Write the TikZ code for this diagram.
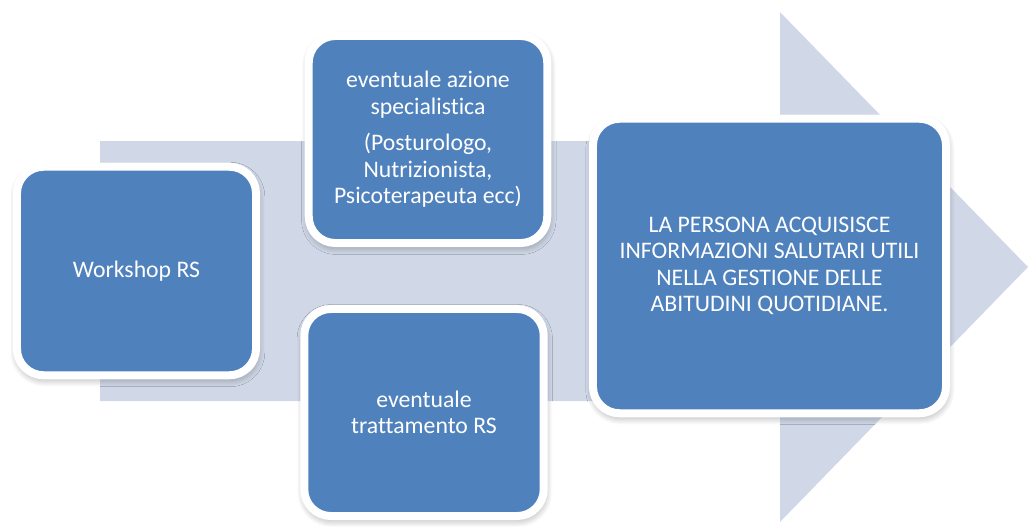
\documentclass[tikz,border=0pt]{standalone}
\usepackage{fontspec}
\setmainfont{Carlito}[Ligatures=NoCommon]
\usetikzlibrary{shadows.blur}
\definecolor{boxblue}{HTML}{4F81BD}
\definecolor{arrowgray}{HTML}{D0D8E8}
\tikzset{
	stepbox/.style={fill=boxblue,draw=white,line width=6pt,rounded corners=20pt,inner sep=0pt,
		align=center,text=white,font=\fontsize{17.8}{19.9}\selectfont,
		blur shadow={shadow xshift=0.6pt,shadow yshift=-2.6pt,shadow blur radius=6pt,shadow blur steps=8,shadow opacity=40}}
}
\begin{document}
\begin{tikzpicture}[x=0.75pt,y=-0.75pt]
	\useasboundingbox (0,0) rectangle (1029,526);
	\fill[arrowgray] (100,141)--(780,141)--(780,12)--(1028,267)--(780,522)--(780,401)--(100,401)--cycle;
	\node[stepbox,minimum width=179.3pt,minimum height=156.4pt] (workshop) at (136.5,271) {Workshop RS};
	\node[stepbox,minimum width=178.9pt,minimum height=155.3pt] (azione) at (428,139.5) {eventuale azione\\specialistica\\[7.5pt](Posturologo,\\Nutrizionista,\\Psicoterapeuta ecc)};
	\node[stepbox,minimum width=179.6pt,minimum height=155.3pt] (trattamento) at (424,412.5) {eventuale\\trattamento RS};
	\node[stepbox,minimum width=264.8pt,minimum height=220.9pt] (persona) at (769.5,266) {LA PERSONA ACQUISISCE\\INFORMAZIONI SALUTARI UTILI\\NELLA GESTIONE DELLE\\ABITUDINI QUOTIDIANE.};
\end{tikzpicture}
\end{document}
